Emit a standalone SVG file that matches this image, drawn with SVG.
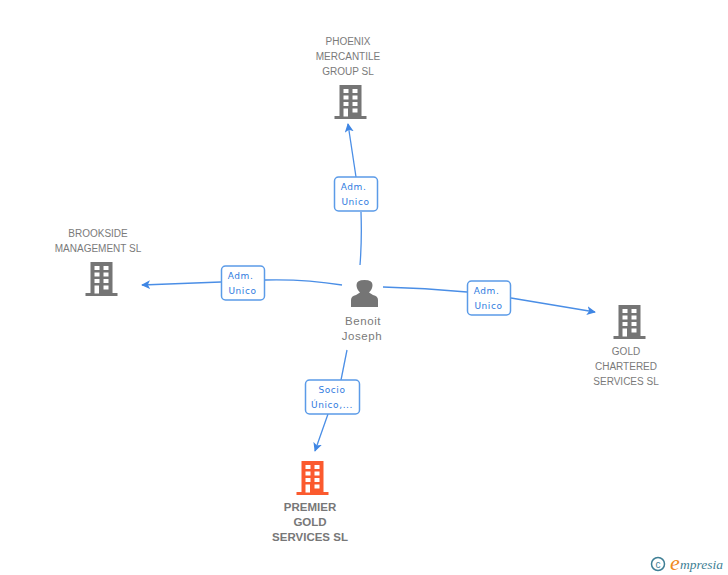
<svg xmlns="http://www.w3.org/2000/svg" width="728" height="575" viewBox="0 0 728 575">
<style>
.t{font-family:"Liberation Sans",Arial,sans-serif;font-size:10px;fill:#7a7a7a;text-anchor:middle}
.b{font-weight:bold;font-size:11.5px;fill:#777}
.p{font-size:11.5px;letter-spacing:.6px}
.l{font-family:"DejaVu Sans",sans-serif;font-size:9px;fill:#2f7be0;text-anchor:middle;letter-spacing:.6px}
.c{fill:none;stroke:#4a8ee6;stroke-width:1.3}
.box{fill:#fff;stroke:#5b9be8;stroke-width:1.5}
.w{fill:#fff}
</style>
<defs>
<marker id="a" viewBox="0 0 10 10" refX="9" refY="5" markerWidth="9" markerHeight="9" markerUnits="userSpaceOnUse" orient="auto"><path d="M0 0L10 5L0 10L2.5 5Z" fill="#3f86e4"/></marker>
<g id="bld">
<rect x="-16" y="14" width="32" height="3"/>
<rect x="-11" y="-17" width="22" height="32"/>
<g class="w">
<rect x="-7" y="-13" width="5" height="4"/><rect x="2" y="-13" width="5" height="4"/>
<rect x="-7" y="-6.500" width="5" height="4"/><rect x="2" y="-6.500" width="5" height="4"/>
<rect x="-7" y="0" width="5" height="4"/><rect x="2" y="0" width="5" height="4"/>
<rect x="-7" y="6.500" width="4.500" height="8"/><rect x="2" y="6.500" width="5" height="4"/>
</g>
</g>
</defs>
<g id="connectors">
<path class="c" marker-end="url(#a)" d="M356 177L348 124"/>
<path class="c" d="M360 265Q362 240 361 212"/>
<path class="c" marker-end="url(#a)" d="M221 282L142 285"/>
<path class="c" d="M342 285Q305 279 265 280"/>
<path class="c" d="M383 287Q425 288 467 292"/>
<path class="c" marker-end="url(#a)" d="M511 298L595 312"/>
<path class="c" d="M347 350L341 380"/>
<path class="c" marker-end="url(#a)" d="M328 414L315 451"/>
</g>
<g id="n-phoenix">
<use href="#bld" x="350.500" y="102" fill="#757575"/>
<text class="t" x="348" y="45">PHOENIX</text><text class="t" x="348" y="60">MERCANTILE</text><text class="t" x="348" y="75">GROUP SL</text>
</g>
<g id="n-brookside">
<use href="#bld" x="101.500" y="279" fill="#757575"/>
<text class="t" x="98" y="237">BROOKSIDE</text><text class="t" x="98" y="252">MANAGEMENT SL</text>
</g>
<g id="n-gold">
<use href="#bld" x="629.500" y="322" fill="#757575"/>
<text class="t" x="626" y="355">GOLD</text><text class="t" x="626" y="370">CHARTERED</text><text class="t" x="626" y="385">SERVICES SL</text>
</g>
<g id="n-premier">
<use href="#bld" x="312.500" y="478" fill="#fb5a2e"/>
<text class="t b" x="310" y="511">PREMIER</text><text class="t b" x="310" y="526">GOLD</text><text class="t b" x="310" y="541">SERVICES SL</text>
</g>
<g id="n-benoit">
<path fill="#757575" d="M351 307V300Q351 296 356 295L360 292.500Q356.500 289 356.500 285Q356.500 280 364.500 280Q372.500 280 372.500 285Q372.500 289 369 292.500L373 295Q378 296 378 300V307Z"/>
<text class="t p" x="363" y="325">Benoit</text><text class="t p" x="362" y="340">Joseph</text>
</g>
<g id="l-phoenix"><rect class="box" x="334.500" y="177" width="43" height="34" rx="4"/><text class="l" x="353.500" y="190">Adm.</text><text class="l" x="355.500" y="205">Unico</text></g>
<g id="l-brookside"><rect class="box" x="221.500" y="266" width="43" height="34" rx="4"/><text class="l" x="240.500" y="279">Adm.</text><text class="l" x="242.500" y="294">Unico</text></g>
<g id="l-gold"><rect class="box" x="467.500" y="281" width="43" height="34" rx="4"/><text class="l" x="486.500" y="294">Adm.</text><text class="l" x="488.500" y="309">Unico</text></g>
<g id="l-premier"><rect class="box" x="305.500" y="380" width="54" height="34" rx="4"/><text class="l" x="332" y="393">Socio</text><text class="l" x="332" y="408">Único,...</text></g>
<g id="logo">
<circle cx="658" cy="564" r="6.500" fill="none" stroke="#3f7f95" stroke-width="1.500"/>
<text x="658" y="567.500" font-family="Liberation Sans,sans-serif" font-size="10" fill="#3f7f95" text-anchor="middle">c</text>
<text x="670" y="570" font-family="Liberation Serif,serif" font-style="italic" font-size="22" fill="#f08a1d">e</text>
<text x="680" y="569" font-family="Liberation Serif,serif" font-style="italic" font-size="13.500" fill="#3f7f95">mpresia</text>
</g>
</svg>
